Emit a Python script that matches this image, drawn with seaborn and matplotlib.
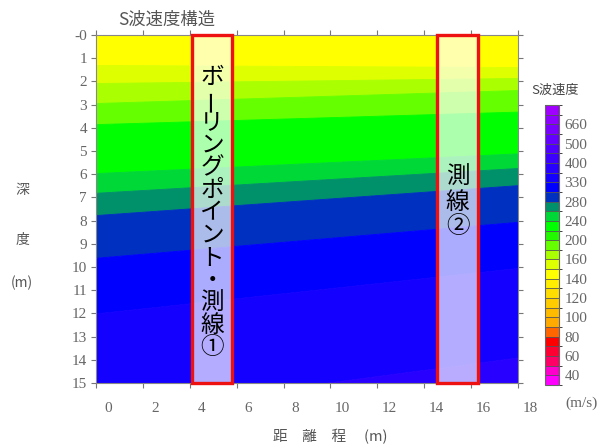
import matplotlib
matplotlib.use("Agg")
import matplotlib.pyplot as plt
import seaborn as sns
from matplotlib.colors import ListedColormap, BoundaryNorm
from matplotlib.cm import ScalarMappable
from matplotlib.patches import Rectangle
from matplotlib.transforms import ScaledTranslation

sns.set_style("ticks")
plt.rcParams['font.family'] = ['Noto Sans CJK JP', 'DejaVu Sans']

# --- colour scale (S-wave velocity, m/s), bottom -> top ---
vel_edges = [30, 40, 50, 60, 70, 80, 90, 100, 110, 120, 130, 140, 150, 160,
             180, 200, 220, 240, 260, 280, 300, 330, 360, 400, 450, 500,
             580, 660, 760, 860]
vel_ticks = [40, 60, 80, 100, 120, 140, 160, 200, 240, 280, 330, 400, 500, 660]
vel_colors = ['#FF00FF', '#FF00CC', '#FF0066', '#FF0033', '#FF0000', '#FF6600',
              '#FFAA00', '#FFBB00', '#FFCC00', '#FFDD00', '#FFEE00', '#FFFF00',
              '#DDFF00', '#AAFF00', '#66FF00', '#22F800', '#00FF00', '#00D838',
              '#00906A', '#0030C0', '#0000FF', '#1400FF', '#2800FF', '#3C00FF',
              '#5000FF', '#6400FF', '#7800FF', '#8C00FF', '#A000FF']

# --- layered velocity model: band velocity and base depth at x=0 / x=18 ---
dist_ends = [0, 18]
band_vel = [145, 155, 170, 190, 230, 250, 270, 290, 315, 345, 380]
base_left = [1.29, 2.07, 2.93, 3.84, 5.95, 6.80, 7.76, 9.60, 12.0, 16.3, 20.0]
base_right = [1.38, 1.85, 2.37, 3.30, 5.10, 5.73, 6.47, 8.05, 10.04, 13.9, 20.0]

# --- survey lines (red boxes) ---
box_x0 = [4.1, 14.55]
box_x1 = [5.8, 16.3]
box_text = ['ボーリングポイント・測線①', '測線②']
text_start = [1.85, 6.15]
text_step = [0.97, 1.05]

x_ticks = list(range(0, 19, 2))
y_ticks = list(range(0, 16))
y_ticklabels = ['-0'] + [str(d) for d in range(1, 16)]

cmap = ListedColormap(vel_colors)
norm = BoundaryNorm(vel_edges, cmap.N)

fig = plt.figure(figsize=(6.01, 4.45), dpi=100)
ax = fig.add_axes([96 / 601, 1 - 383 / 445, 422 / 601, 348 / 445])

top_l, top_r = 0.0, 0.0
for v, bl, br in zip(band_vel, base_left, base_right):
    c = cmap(norm(v))
    ax.fill_between(dist_ends, [top_l, top_r], [bl, br], color=c,
                    edgecolor=c, lw=0.6)
    top_l, top_r = bl, br

for x0, x1, txt, y0, dy in zip(box_x0, box_x1, box_text, text_start, text_step):
    ax.add_patch(Rectangle((x0, 0), x1 - x0, 15, facecolor='white',
                           alpha=0.68, edgecolor='none', zorder=3))
    ax.add_patch(Rectangle((x0, 0), x1 - x0, 15, fill=False, edgecolor='#EE1111',
                           lw=2.4, zorder=4, clip_on=False))
    xc = (x0 + x1) / 2
    for i, ch in enumerate(txt):
        ax.text(xc, y0 + i * dy, ch, ha='center', va='center', fontsize=17,
                color='black', rotation=90 if ch == 'ー' else 0, zorder=5)

ax.set_xlim(0, 18)
ax.set_ylim(15, 0)
ax.set_xticks(x_ticks)
ax.set_yticks(y_ticks)
ax.set_yticklabels(y_ticklabels)
ax.tick_params(axis='both', direction='out', length=3.5, width=0.8,
               color='#777777', labelcolor='#666666', labelsize=11,
               top=True, right=True)
ax.tick_params(axis='x', pad=10)
ax.tick_params(axis='y', pad=3)
for lab in ax.get_xticklabels() + ax.get_yticklabels():
    lab.set_fontfamily('Liberation Serif')
for lab in ax.get_xticklabels():
    lab.set_transform(lab.get_transform() + ScaledTranslation(0.12, 0, fig.dpi_scale_trans))
for s in ax.spines.values():
    s.set_color('#888888')
    s.set_linewidth(0.8)

fig.text(167 / 601, 1 - 20 / 445, 'S波速度構造', ha='center', va='center',
         fontsize=12.5, color='#555555')
for ch, yp in zip(['深', '度', '(m)'], [190, 240, 283]):
    fig.text(22 / 601, 1 - yp / 445, ch, ha='center', va='center', fontsize=10,
             color='#555555')
fig.text(330 / 601, 1 - 437 / 445, '距　離　程　 (m)', ha='center', va='center',
         fontsize=10.5, color='#555555')

# --- colour bar ---
cax = fig.add_axes([545 / 601, 1 - 385 / 445, 14 / 601, 280 / 445])
cb = fig.colorbar(ScalarMappable(norm=norm, cmap=cmap), cax=cax, ticks=vel_ticks,
                  spacing='uniform', drawedges=True)
cb.dividers.set_color('#555555')
cb.dividers.set_linewidth(0.6)
cb.outline.set_edgecolor('#666666')
cb.outline.set_linewidth(0.8)
cax.tick_params(length=0, labelsize=11, labelcolor='#666666', pad=4)
for lab in cax.get_yticklabels():
    lab.set_fontfamily('Liberation Serif')
fig.text(555 / 601, 1 - 90 / 445, 'S波速度', ha='center', va='center',
         fontsize=9.5, color='#444444')
fig.text(582 / 601, 1 - 403 / 445, '(m/s)', ha='center', va='center',
         fontsize=11, color='#666666', family='Liberation Serif')

fig.savefig('out.png', dpi=100)
